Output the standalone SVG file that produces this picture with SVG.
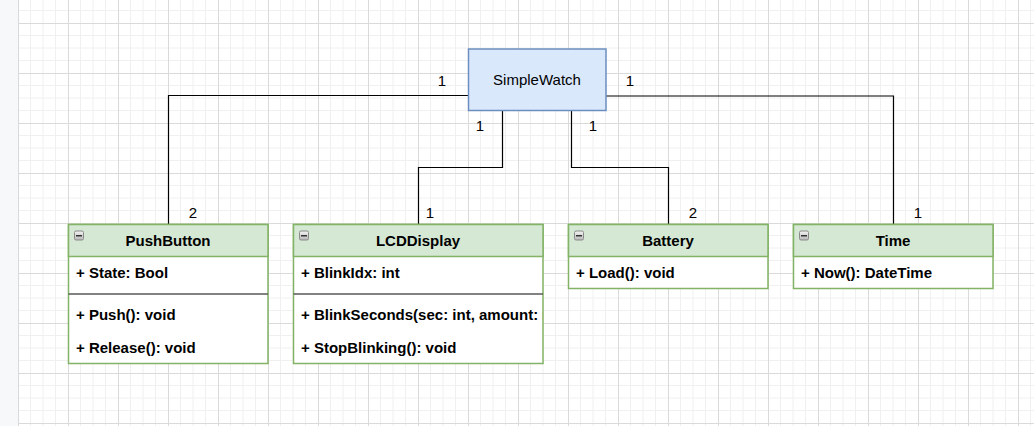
<svg xmlns="http://www.w3.org/2000/svg" width="1034" height="426" viewBox="0 0 1034 426">
<defs>
<pattern id="grid" x="18" y="23" width="50" height="50" patternUnits="userSpaceOnUse">
<path d="M12.5 0V50M25 0V50M37.5 0V50M0 12.5H50M0 25H50M0 37.5H50" stroke="#f0f0f0" stroke-width="1" fill="none"/>
<path d="M0.5 0V50M0 0.5H50" stroke="#dadada" stroke-width="1" fill="none"/>
</pattern>
<linearGradient id="btn" x1="0" y1="0" x2="0" y2="1">
<stop offset="0" stop-color="#f4f4f4"/>
<stop offset="1" stop-color="#b8b8b8"/>
</linearGradient>
<g id="minus">
<rect x="0.5" y="0.5" width="9" height="9" rx="1.5" fill="url(#btn)" stroke="#8a8a8a"/>
<rect x="2" y="4.5" width="6" height="1.5" fill="#333"/>
</g>
<clipPath id="clipLcd"><rect x="293" y="224" width="250" height="140"/></clipPath>
</defs>
<style>
.box{fill:#ffffff;stroke:#82b366;stroke-width:1.5}
.hdr{fill:#d5e8d4;stroke:#82b366;stroke-width:1.5}
.sep{stroke:#595959;stroke-width:1.5}
.t{font-family:"Liberation Sans",Arial,sans-serif;font-size:15px;fill:#000}
.b{font-weight:bold}
.c{text-anchor:middle}
.edge{fill:none;stroke:#000;stroke-width:1.2}
</style>
<rect x="0" y="0" width="1034" height="426" fill="#ffffff"/>
<rect x="18" y="0" width="1016" height="426" fill="url(#grid)"/>
<rect x="0" y="0" width="18" height="426" fill="#f7f8fa"/>

<g id="connectors">
<path class="edge" d="M468 95.5H168.5V224"/>
<path class="edge" d="M606 96H893.5V224"/>
<path class="edge" d="M502.5 111V167.5H418.5V224"/>
<path class="edge" d="M571.5 111V167.5H668.5V224"/>
<text class="t c" x="442" y="86">1</text>
<text class="t c" x="630" y="86">1</text>
<text class="t c" x="480" y="131">1</text>
<text class="t c" x="593" y="131">1</text>
<text class="t c" x="193" y="218">2</text>
<text class="t c" x="430" y="218">1</text>
<text class="t c" x="693" y="218">2</text>
<text class="t c" x="918" y="218">1</text>
</g>

<g id="SimpleWatch">
<rect x="468.5" y="49" width="137.5" height="61.5" fill="#dae8fc" stroke="#6c8ebf" stroke-width="1.5"/>
<text class="t c" x="537" y="85" fill="#333">SimpleWatch</text>
</g>

<g id="PushButton">
<rect class="box" x="68.5" y="224.5" width="199.5" height="139"/>
<rect class="hdr" x="68.5" y="224.5" width="199.5" height="32"/>
<use href="#minus" x="74" y="230.5"/>
<text class="t b c" x="168" y="246">PushButton</text>
<text class="t b" x="76" y="278">+ State: Bool</text>
<line class="sep" x1="68.5" y1="294" x2="268" y2="294"/>
<text class="t b" x="76" y="320">+ Push(): void</text>
<text class="t b" x="76" y="353">+ Release(): void</text>
</g>

<g id="LCDDisplay">
<rect class="box" x="293.5" y="224.5" width="249.5" height="139"/>
<rect class="hdr" x="293.5" y="224.5" width="249.5" height="32"/>
<use href="#minus" x="299" y="230.5"/>
<text class="t b c" x="418" y="246">LCDDisplay</text>
<text class="t b" x="301" y="278">+ BlinkIdx: int</text>
<line class="sep" x1="293.5" y1="294" x2="543" y2="294"/>
<text class="t b" x="301" y="320" clip-path="url(#clipLcd)">+ BlinkSeconds(sec: int, amount: int): void</text>
<text class="t b" x="301" y="353">+ StopBlinking(): void</text>
</g>

<g id="Battery">
<rect class="box" x="568.5" y="224.5" width="199.5" height="64"/>
<rect class="hdr" x="568.5" y="224.5" width="199.5" height="32"/>
<use href="#minus" x="574" y="230.5"/>
<text class="t b c" x="668" y="246">Battery</text>
<text class="t b" x="576" y="278">+ Load(): void</text>
</g>

<g id="Time">
<rect class="box" x="793.5" y="224.5" width="199.5" height="64"/>
<rect class="hdr" x="793.5" y="224.5" width="199.5" height="32"/>
<use href="#minus" x="799" y="230.5"/>
<text class="t b c" x="893" y="246">Time</text>
<text class="t b" x="801" y="278">+ Now(): DateTime</text>
</g>
</svg>
